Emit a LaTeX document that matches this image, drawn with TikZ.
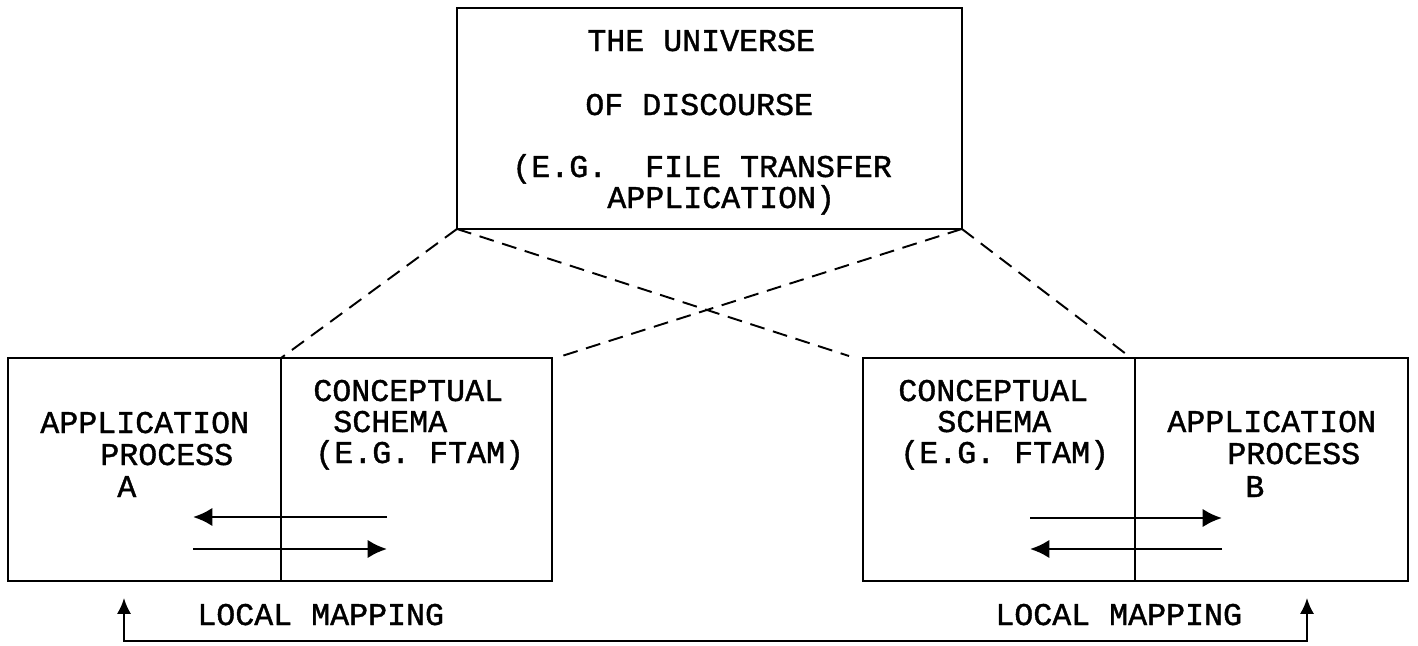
\documentclass[tikz,border=0pt]{standalone}
\usepackage{fontspec}
\newfontfamily\dotfont{Liberation Mono}[FakeBold=1.2]
\usetikzlibrary{arrows.meta}
\tikzset{
    box/.style={draw, line width=1.3pt, inner sep=0pt, outer sep=0pt, anchor=north west},
    txt/.style={anchor=base west, inner sep=0pt, font=\dotfont\fontsize{18}{21}\selectfont},
    flow/.style={line width=1.5pt, -{Latex[length=11pt,width=10.5pt]}},
    link/.style={line width=1.1pt, dash pattern=on 8.5pt off 5pt}
}
\begin{document}
\begin{tikzpicture}[x=0.02cm,y=-0.02cm]
\useasboundingbox (0,0) rectangle (1418,646);
% boxes
\node[box, minimum width=10.1cm, minimum height=4.42cm] (univ) at (457,8) {};
\node[box, minimum width=5.46cm, minimum height=4.46cm] (procA) at (8,358) {};
\node[box, minimum width=5.42cm, minimum height=4.46cm] (schemaA) at (281,358) {};
\node[box, minimum width=5.44cm, minimum height=4.46cm] (schemaB) at (863,358) {};
\node[box, minimum width=5.46cm, minimum height=4.46cm] (procB) at (1135,358) {};
% texts
\foreach \x/\y/\t[count=\idx] in {
    587/51/THE UNIVERSE,
    585/115/OF DISCOURSE,
    512/177/{(E.G.\ \ FILE TRANSFER},
    607/208/APPLICATION),
    40/433/APPLICATION, 100/465/PROCESS, 117/497/A,
    313/401/CONCEPTUAL, 333/432/SCHEMA, 315/463/(E.G. FTAM),
    898/401/CONCEPTUAL, 937/432/SCHEMA, 900/463/(E.G. FTAM),
    1167/432/APPLICATION, 1227/464/PROCESS, 1245/497/B,
    197/625/LOCAL MAPPING, 995/625/LOCAL MAPPING
}{
    \node[txt] (lbl\idx) at (\x, \y) {\t};
}
% dashed links
\draw[link] (univ.south west) -- (schemaA.north west);
\draw[link] (univ.south west) -- ([shift={(-14,-2)}]schemaB.north west);
\draw[link] (univ.south east) -- ([shift={(10,-2)}]schemaA.north east);
\draw[link] (univ.south east) -- ([shift={(-5,-1)}]procB.north west);
% exchange arrows
\coordinate (aw1) at (193,517); \coordinate (ae1) at (387,517);
\coordinate (aw2) at (193,549); \coordinate (ae2) at (387,549);
\coordinate (bw1) at (1030,518); \coordinate (be1) at (1222,518);
\coordinate (bw2) at (1030,549); \coordinate (be2) at (1222,549);
\draw[flow] (ae1) -- (aw1);
\draw[flow] (aw2) -- (ae2);
\draw[flow] (bw1) -- (be1);
\draw[flow] (be2) -- (bw2);
% local mapping
\coordinate (mapA) at (124,598);
\coordinate (mapB) at (1307,598);
\draw[line width=1.2pt, {Latex[length=9pt,width=8pt]}-{Latex[length=9pt,width=8pt]}] (mapA) -- ++(0,43) -| (mapB);
\end{tikzpicture}
\end{document}
